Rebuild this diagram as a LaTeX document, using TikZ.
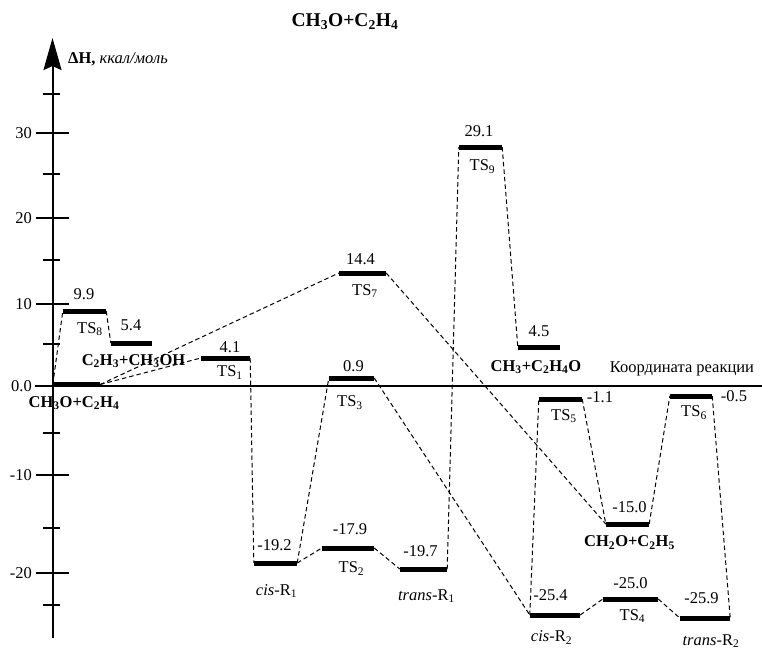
\documentclass[tikz,border=0pt]{standalone}
\usepackage{fontspec}
\setmainfont{Liberation Serif}
\usetikzlibrary{arrows.meta,positioning}

\begin{document}
\begin{tikzpicture}[
  x=1pt, y=-1pt,
  font=\fontsize{16.5}{19}\selectfont,
  >=Stealth,
  level/.style={
    rectangle, fill=black, draw=none,
    minimum height=5pt, inner sep=0pt
  },
  link/.style={dash pattern=on 4.5pt off 3pt, line width=1pt},
  val/.style={anchor=base, inner sep=0pt},
  spec/.style={anchor=base, inner sep=0pt, font=\fontsize{16.5}{19}\selectfont\bfseries},
  axisline/.style={line width=2pt},
  majtick/.style={line width=1.2pt},
  mintick/.style={line width=1.2pt}
]
\useasboundingbox (0,0) rectangle (762,649);

%% ── Axes ────────────────────────────────────────────────────────────
\coordinate (yfoot) at (52.5,638);
\coordinate (ytop)  at (52.5,38);
\coordinate (xfoot) at (35,386);
\coordinate (xend)  at (762,386);
\draw[axisline, -{Stealth[length=32pt,width=18pt,inset=4pt]}] (yfoot) -- (ytop);
\draw[axisline] (xfoot) -- (xend);

\foreach \y/\t in {133/30, 218/20, 304/10, 386/0.0, 475/-10, 573/-20} {
  \draw[majtick] (36,\y) -- (69,\y);
  \node[anchor=east, inner sep=0pt] at (32,\y) {\t};
}
\foreach \y in {94, 174, 260, 344, 433, 528, 605}
  \draw[mintick] (43,\y) -- (60,\y);

\node[anchor=base west, inner sep=0pt] (ylab) at (68,63.3)
  {\textbf{ΔH,} \textit{ккал/моль}};
\node[anchor=base, inner sep=0pt] (xlab) at (682,372.7) {Координата реакции};
\node[spec, font=\fontsize{19.5}{22}\selectfont\bfseries] (title) at (345,26)
  {CH\textsubscript{3}O+C\textsubscript{2}H\textsubscript{4}};

%% ── Levels ──────────────────────────────────────────────────────────
\node[level, minimum width=47pt] (reac)   at (76.5,384.5) {};
\node[level, minimum width=43pt] (ts8)    at (84.5,311)   {};
\node[level, minimum width=41pt] (ch3oh)  at (131.5,343)  {};
\node[level, minimum width=49pt] (ts1)    at (225.5,358)  {};
\node[level, minimum width=47pt] (ts7)    at (362.5,273)  {};
\node[level, minimum width=43pt] (ts9)    at (480.5,147)  {};
\node[level, minimum width=42pt] (c2h4o)  at (539,347)    {};
\node[level, minimum width=45pt] (ts3)    at (351.5,378)  {};
\node[level, minimum width=43pt] (cisA)   at (275.5,563)  {};
\node[level, minimum width=52pt] (ts2)    at (348,548)    {};
\node[level, minimum width=47pt] (transA) at (423.5,569)  {};
\node[level, minimum width=43pt] (ts5)    at (560.5,399)  {};
\node[level, minimum width=43pt] (c2h5)   at (627.5,524)  {};
\node[level, minimum width=42pt] (ts6)    at (691,396)    {};
\node[level, minimum width=50pt] (cisB)   at (555,615)    {};
\node[level, minimum width=55pt] (ts4)    at (630.5,599)  {};
\node[level, minimum width=50pt] (transB) at (705,618)    {};

%% ── Values and names ────────────────────────────────────────────────
\node[spec] (nreac)  at (74,407)      {CH\textsubscript{3}O+C\textsubscript{2}H\textsubscript{4}};
\node[val]  (v8)     at (84,299)      {9.9};
\node[val]  (n8)     at (90,333)      {TS\textsubscript{8}};
\node[val]  (vch3oh) at (131,330)     {5.4};
\node[spec] (nch3oh) at (133.5,365)   {C\textsubscript{2}H\textsubscript{3}+CH\textsubscript{3}OH};
\node[val]  (v1)     at (230,352)     {4.1};
\node[val]  (n1)     at (230,376.7)   {TS\textsubscript{1}};
\node[val]  (v3)     at (353.5,371.7) {0.9};
\node[val]  (n3)     at (350,406.7)   {TS\textsubscript{3}};
\node[val]  (v7)     at (360.5,264)   {14.4};
\node[val]  (n7)     at (365,295)     {TS\textsubscript{7}};
\node[val]  (v9)     at (479,136.7)   {29.1};
\node[val]  (n9)     at (482.5,170.7) {TS\textsubscript{9}};
\node[val]  (vc2h4o) at (539,336.7)   {4.5};
\node[spec] (nc2h4o) at (536,371)     {CH\textsubscript{3}+C\textsubscript{2}H\textsubscript{4}O};
\node[val]  (v5)     at (600,402.5)   {-1.1};
\node[val]  (n5)     at (564,420)     {TS\textsubscript{5}};
\node[val]  (v6)     at (734,401.7)   {-0.5};
\node[val]  (n6)     at (694,416.7)   {TS\textsubscript{6}};
\node[val]  (vc2h5)  at (629.5,512.7) {-15.0};
\node[spec] (nc2h5)  at (629.5,546.7) {CH\textsubscript{2}O+C\textsubscript{2}H\textsubscript{5}};
\node[val]  (vcisA)  at (274.5,550)   {-19.2};
\node[val]  (ncisA)  at (276.5,595)   {\textit{cis}-R\textsubscript{1}};
\node[val]  (v2)     at (350,534.3)   {-17.9};
\node[val]  (n2)     at (351.5,572.7) {TS\textsubscript{2}};
\node[val]  (vtrA)   at (420.5,556.7) {-19.7};
\node[val]  (ntrA)   at (426.5,600)   {\textit{trans}-R\textsubscript{1}};
\node[val]  (vcisB)  at (550.5,600)   {-25.4};
\node[val]  (ncisB)  at (551.5,641.7) {\textit{cis}-R\textsubscript{2}};
\node[val]  (v4)     at (630.5,588.3) {-25.0};
\node[val]  (n4)     at (632.5,620)   {TS\textsubscript{4}};
\node[val]  (vtrB)   at (701.5,603.3) {-25.9};
\node[val]  (ntrB)   at (711,645)     {\textit{trans}-R\textsubscript{2}};

%% ── Dashed connections ──────────────────────────────────────────────
\foreach \a/\b in {reac.west/ts8.west, ts8.east/ch3oh.west,
                   reac.east/ts1.west, reac.east/ts7.west,
                   ts1.east/cisA.west, cisA.east/ts2.west, cisA.east/ts3.west,
                   ts2.east/transA.west, transA.east/ts9.west,
                   ts9.east/c2h4o.west, ts7.east/c2h5.west,
                   ts3.east/cisB.west, cisB.west/ts5.west,
                   ts5.east/c2h5.west, c2h5.east/ts6.west,
                   ts6.east/transB.east, cisB.east/ts4.west,
                   ts4.east/transB.west}
  \draw[link] (\a) -- (\b);

\end{tikzpicture}
\end{document}
